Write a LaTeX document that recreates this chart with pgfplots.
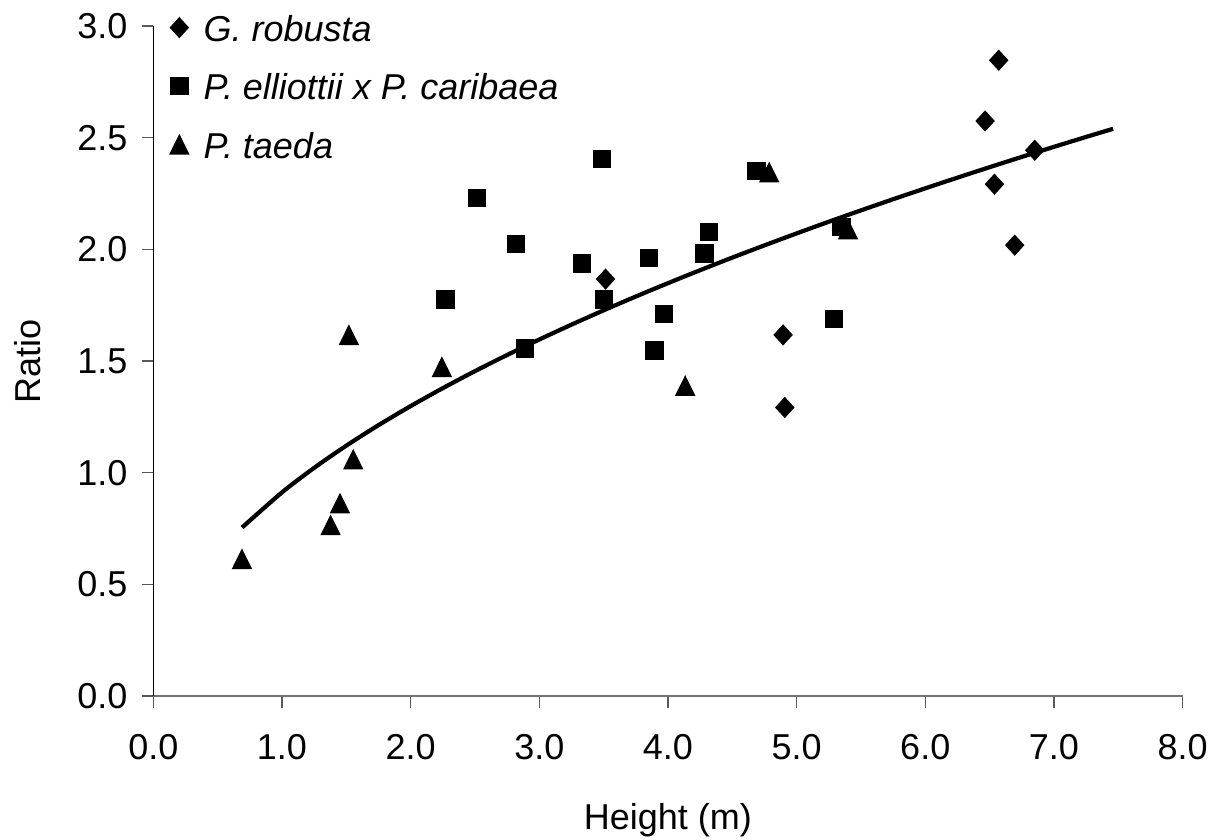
\documentclass[border=0pt]{standalone}
\usepackage{pgfplots}
\pgfplotsset{compat=1.18}
\usepackage{fontspec}
\setmainfont{Liberation Sans}
\newcommand{\twelve}{\fontsize{12}{14.4}\selectfont}
\begin{document}
\begin{tikzpicture}
\useasboundingbox (-51.1pt,-48pt) rectangle (357.9pt,232pt);
\begin{axis}[
  at={(0,0)}, anchor=south west,
  scale only axis, width=343.1pt, height=223.3pt,
  xmin=0, xmax=8, ymin=0, ymax=3,
  axis x line*=bottom, axis y line*=left,
  x axis line style={draw=gray!90!black, line width=0.7pt},
  y axis line style={draw=black, line width=0.4pt},
  xtick={0,1,...,8}, ytick={0,0.5,...,3},
  tick align=outside, major tick length=3.9pt,
  tick style={draw=gray!70!black, line width=0.4pt},
  /pgf/number format/assume math mode=true,
  /pgf/number format/fixed, /pgf/number format/fixed zerofill, /pgf/number format/precision=1,
  every tick label/.append style={font=\twelve},
  xticklabel style={yshift=-5.4pt},
  yticklabel style={xshift=-1.2pt},
  xlabel={Height (m)}, ylabel={Ratio},
  xlabel style={at={([yshift=-41.3pt]axis description cs:0.5,0)}, anchor=center, font=\twelve},
  ylabel style={at={([xshift=-41.8pt]axis description cs:0,0.5)}, anchor=center, font=\twelve},
  legend style={at={([xshift=2.4pt, yshift=6.2pt]axis description cs:0,1)}, anchor=north west, draw=none, fill=none,
    font=\twelve\itshape, row sep=10.5pt,
    nodes={inner xsep=5pt, inner ysep=0pt, text height=9pt, text depth=0pt}},
  legend cell align=left,
  legend image code/.code={\draw[#1] plot coordinates {(0pt,0pt)};},
]
\addplot[forget plot, black, line width=1.4pt, smooth, no marks] coordinates {
(0.69,0.7545) (1.0,0.9116) (1.25,1.0215) (1.5,1.1210) (1.75,1.2127) (2.0,1.2981)
(2.25,1.3785) (2.5,1.4547) (2.75,1.5271) (3.0,1.5964) (3.25,1.6629) (3.5,1.7270)
(3.75,1.7888) (4.0,1.8487) (4.25,1.9068) (4.5,1.9632) (4.75,2.0180) (5.0,2.0715)
(5.25,2.1238) (5.5,2.1747) (5.75,2.2246) (6.0,2.2733) (6.25,2.3212) (6.5,2.3681)
(6.75,2.4141) (7.0,2.4592) (7.25,2.5036) (7.46,2.5400)
};
\addplot[only marks, mark=diamond*, mark size=3.25pt, mark options={xscale=1.22, fill=black, draw=black}] coordinates {
(3.515,1.867) (4.895,1.617) (4.908,1.292) (6.465,2.575) (6.571,2.847) (6.538,2.292) (6.695,2.019) (6.851,2.444)
};
\addlegendentry{G. robusta}
\addplot[only marks, mark=square*, mark size=2.9pt, mark options={fill=black, draw=black}] coordinates {
(2.272,1.776) (2.517,2.231) (2.818,2.025) (2.888,1.556) (3.331,1.937) (3.489,2.404) (3.504,1.776)
(3.852,1.961) (3.896,1.546) (3.968,1.711) (4.282,1.982) (4.320,2.078) (4.688,2.351) (5.291,1.689) (5.349,2.101)
};
\addlegendentry{P. elliottii x P. caribaea}
\addplot[only marks, mark=triangle*, mark size=3.56pt, mark options={yshift=-1.04pt, yscale=1.17, fill=black, draw=black}] coordinates {
(0.689,0.613) (1.378,0.765) (1.451,0.862) (1.554,1.059) (1.520,1.616) (2.243,1.473) (4.134,1.389) (4.787,2.345) (5.400,2.089)
};
\addlegendentry{P. taeda}
\end{axis}
\end{tikzpicture}
\end{document}
